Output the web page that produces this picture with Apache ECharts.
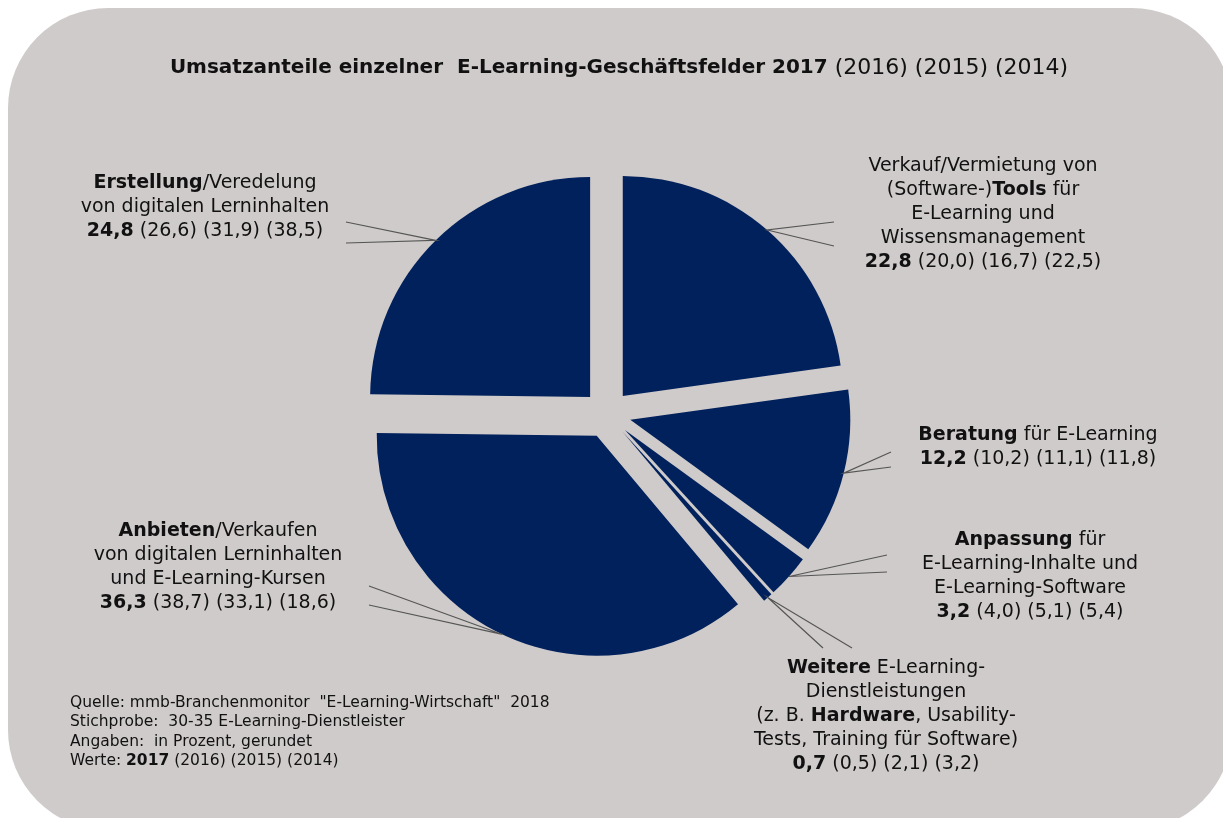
<!DOCTYPE html>
<html><head><meta charset="utf-8">
<script src="https://cdn.jsdelivr.net/npm/echarts@6/dist/echarts.min.js"></script>
<style>html,body{margin:0;padding:0;background:#fff}#c{width:1223px;height:818px}</style>
</head><body><div id="c"></div>
<script>
// ---- data ----
const categories = ['Tools', 'Beratung', 'Anpassung', 'Weitere', 'Anbieten', 'Erstellung'];
const values2017 = [22.8, 12.2, 3.2, 0.7, 36.3, 24.8];
const values2016 = [20.0, 10.2, 4.0, 0.5, 38.7, 26.6];
const values2015 = [16.7, 11.1, 5.1, 2.1, 33.1, 31.9];
const values2014 = [22.5, 11.8, 5.4, 3.2, 18.6, 38.5];
const labelTexts = [
  ['Verkauf/Vermietung von', '(Software-){b|Tools} für', 'E-Learning und', 'Wissensmanagement'],
  ['{b|Beratung} für E-Learning'],
  ['{b|Anpassung} für', 'E-Learning-Inhalte und', 'E-Learning-Software'],
  ['{b|Weitere} E-Learning-', 'Dienstleistungen', '(z. B. {b|Hardware}, Usability-', 'Tests, Training für Software)'],
  ['{b|Anbieten}/Verkaufen', 'von digitalen Lerninhalten', 'und E-Learning-Kursen'],
  ['{b|Erstellung}/Veredelung', 'von digitalen Lerninhalten']
];
const titleBold = 'Umsatzanteile einzelner  E-Learning-Geschäftsfelder 2017';
const titleRest = ' (2016) (2015) (2014)';
const footLines = [
  'Quelle: mmb-Branchenmonitor  "E-Learning-Wirtschaft"  2018',
  'Stichprobe:  30-35 E-Learning-Dienstleister',
  'Angaben:  in Prozent, gerundet',
  'Werte: {b|2017} (2016) (2015) (2014)'
];

// ---- layout ----
const CX = 607, CY = 414, R = 220, OFFSET = 24;
const FONT = '"DejaVu Sans", "Liberation Sans", sans-serif';
const NAVY = '#00215b';
const LABEL_SIZE = 19, LABEL_LH = 24;
// label block: center x, top y; leader line end points
const labelLayout = [
  { x: 983, y: 154, e1: [834, 222], e2: [834, 246] },
  { x: 1038, y: 423, e1: [891, 452], e2: [891, 467] },
  { x: 1030, y: 528, e1: [887, 555], e2: [887, 572] },
  { x: 886, y: 656, e1: [823, 648], e2: [852, 648] },
  { x: 218, y: 519, e1: [369, 586], e2: [369, 605] },
  { x: 205, y: 171, e1: [346, 222], e2: [346, 243] }
];

const fmt = v => v.toFixed(1).replace('.', ',');
const total = values2017.reduce((a, b) => a + b, 0);
let acc = 0;
const anchors = values2017.map(v => {
  const mid = (acc + v / 2) / total * 2 * Math.PI;
  acc += v;
  const d = R + OFFSET;
  return [CX + d * Math.sin(mid), CY - d * Math.cos(mid)];
});

const richLabel = {
  b: { fontFamily: FONT, fontWeight: 'bold', fontSize: LABEL_SIZE, lineHeight: LABEL_LH, fill: '#111', align: 'center' }
};

const graphics = [
  { type: 'rect', z: -100, silent: true,
    shape: { x: 8, y: 8, width: 1224, height: 822, r: 100 },
    style: { fill: '#d0cbcb' } }
];
labelLayout.forEach((L, i) => {
  const lines = labelTexts[i].slice();
  lines.push('{b|' + fmt(values2017[i]) + '} (' + fmt(values2016[i]) + ') (' + fmt(values2015[i]) + ') (' + fmt(values2014[i]) + ')');
  graphics.push({
    type: 'polyline', z: 5, silent: true,
    shape: { points: [L.e1, anchors[i], L.e2] },
    style: { stroke: '#555', lineWidth: 1.2, fill: null }
  });
  graphics.push({
    type: 'text', z: 5, silent: true,
    x: L.x, y: L.y,
    style: {
      text: lines.join('\n'),
      font: LABEL_SIZE + 'px ' + FONT,
      fontFamily: FONT, fontSize: LABEL_SIZE,
      fill: '#111', align: 'center', textAlign: 'center',
      verticalAlign: 'top', textVerticalAlign: 'top',
      lineHeight: LABEL_LH,
      rich: richLabel
    }
  });
});
graphics.push({
  type: 'text', z: 5, silent: true,
  x: 70, y: 693,
  style: {
    text: footLines.join('\n'),
    font: '15.5px ' + FONT, fontFamily: FONT, fontSize: 15.5,
    fill: '#111', align: 'left', textAlign: 'left',
    verticalAlign: 'top', textVerticalAlign: 'top',
    lineHeight: 19.5,
    rich: { b: { fontFamily: FONT, fontWeight: 'bold', fontSize: 15.5, lineHeight: 19.5, fill: '#111' } }
  }
});

const chart = echarts.init(document.getElementById('c'), null, { renderer: 'canvas' });
chart.setOption({
  animation: false,
  backgroundColor: '#ffffff',
  title: {
    text: '{b|' + titleBold + '}{n|' + titleRest + '}',
    left: 614, top: 52, textAlign: 'center',
    textStyle: {
      rich: {
        b: { fontFamily: FONT, fontWeight: 'bold', fontSize: 20, color: '#111' },
        n: { fontFamily: FONT, fontWeight: 'normal', fontSize: 22, color: '#111' }
      }
    }
  },
  graphic: graphics,
  series: [{
    type: 'pie',
    center: [CX, CY],
    radius: R,
    startAngle: 90,
    clockwise: true,
    selectedMode: 'multiple',
    selectedOffset: OFFSET,
    label: { show: false },
    labelLine: { show: false },
    itemStyle: { color: NAVY, borderWidth: 0 },
    select: { itemStyle: { color: NAVY, borderWidth: 0 } },
    emphasis: { disabled: true },
    data: categories.map((c, i) => ({ name: c, value: values2017[i], selected: true }))
  }]
});
</script></body></html>
